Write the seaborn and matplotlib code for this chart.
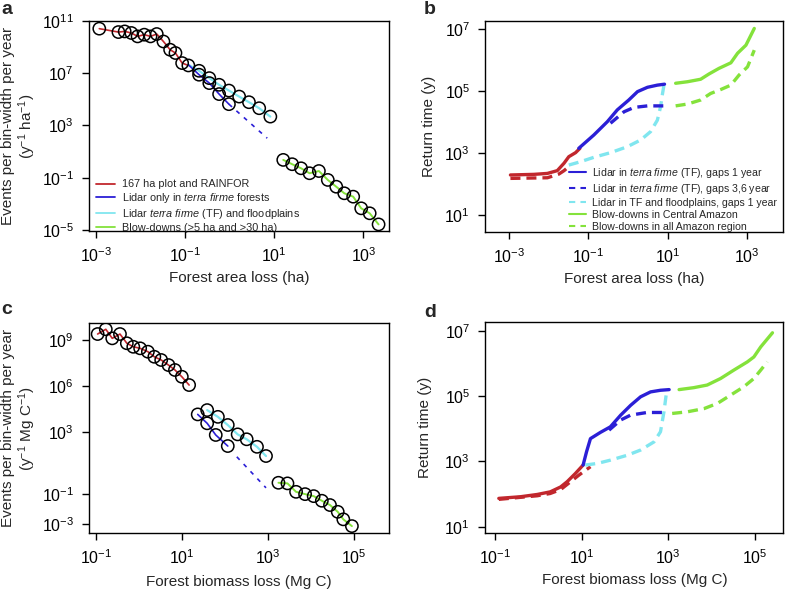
import numpy as np
import matplotlib
matplotlib.use("Agg")
import matplotlib.pyplot as plt
from matplotlib.lines import Line2D
from matplotlib.ticker import NullLocator, FixedLocator, FixedFormatter
import seaborn as sns

# all values are log10 of what is on the axes

# panel a: event rate vs forest area loss
a_red_x = [-2.93, -2.50, -2.36, -2.21, -2.07, -1.92, -1.78, -1.64, -1.49, -1.34, -1.22, -1.07, -0.93]
a_red_y = [10.39, 10.13, 10.18, 10.06, 9.80, 9.93, 9.80, 9.98, 9.41, 8.78, 8.53, 7.76, 7.58]
a_blue_x = [-0.93, -0.69, -0.46, -0.24, -0.02]
a_blue_y = [7.63, 6.87, 6.23, 5.39, 4.62]
a_blue_ext_x = [-0.02, 0.84]
a_blue_ext_y = [4.62, 2.02]
a_cyan_x = [-0.93, -0.69, -0.46, -0.24, -0.02, 0.21, 0.43, 0.66, 0.91]
a_cyan_y = [7.63, 7.17, 6.61, 6.10, 5.66, 5.20, 4.77, 4.31, 3.67]
a_green_x = [1.20, 1.40, 1.60, 1.79, 2.00, 2.20, 2.39, 2.57, 2.77, 2.95, 3.14, 3.34]
a_green_y = [0.36, 0.03, -0.28, -0.66, -0.49, -1.17, -1.69, -2.19, -2.45, -3.34, -3.72, -4.57]

# panel c: event rate vs forest biomass loss
c_red_x = [-0.96, -0.77, -0.62, -0.44, -0.28, -0.13, 0.03, 0.21, 0.36, 0.52, 0.69, 0.84, 1.00, 1.17]
c_red_y = [9.39, 9.70, 9.11, 9.39, 8.79, 8.56, 8.46, 8.24, 7.91, 7.70, 7.37, 7.05, 6.61, 6.07]
c_blue_x = [1.37, 1.59, 1.79, 2.07]
c_blue_y = [4.16, 3.58, 2.82, 2.10]
c_blue_ext_x = [2.28, 2.96]
c_blue_ext_y = [1.40, -0.62]
c_cyan_x = [1.59, 1.84, 2.07, 2.30, 2.51, 2.75, 2.96]
c_cyan_y = [4.44, 4.00, 3.47, 2.86, 2.54, 2.05, 1.45]
c_green_x = [3.25, 3.46, 3.66, 3.87, 4.07, 4.26, 4.45, 4.63, 4.76, 4.96]
c_green_y = [-0.29, -0.33, -0.88, -1.03, -1.16, -1.46, -1.74, -2.18, -2.67, -3.11]

# panel b: return time vs forest area loss
b_red_x = [-2.96, -2.37, -2.03, -1.78, -1.61, -1.49, -1.32, -1.21]
b_red_y = [2.29, 2.31, 2.34, 2.43, 2.67, 2.88, 3.01, 3.15]
b_red_d_x = [-2.96, -2.03, -1.74, -1.61, -1.49]
b_red_d_y = [2.18, 2.20, 2.32, 2.43, 2.56]
b_blue_x = [-1.24, -0.86, -0.52, -0.27, 0.02, 0.24, 0.49, 0.74, 0.92]
b_blue_y = [3.15, 3.58, 4.01, 4.39, 4.71, 4.98, 5.12, 5.19, 5.22]
b_blue_d_x = [-0.44, -0.10, 0.15, 0.49, 0.91]
b_blue_d_y = [3.96, 4.33, 4.47, 4.52, 4.52]
b_cyan_x = [-1.49, -1.19, -0.86, -0.44, -0.02, 0.32, 0.57, 0.74, 0.82, 0.87, 0.91]
b_cyan_y = [2.61, 2.72, 2.86, 3.01, 3.20, 3.42, 3.69, 4.06, 4.49, 4.92, 5.22]
b_green_x = [1.20, 1.50, 1.83, 2.04, 2.29, 2.59, 2.76, 2.97, 3.18]
b_green_y = [5.25, 5.30, 5.38, 5.55, 5.73, 5.91, 6.22, 6.48, 7.02]
b_green_d_x = [1.20, 1.50, 1.83, 2.08, 2.34, 2.59, 2.80, 3.01, 3.18]
b_green_d_y = [4.52, 4.58, 4.71, 4.92, 5.05, 5.19, 5.52, 5.78, 6.32]

# panel d: return time vs forest biomass loss
d_red_x = [-0.92, -0.42, -0.03, 0.27, 0.51, 0.66, 0.85, 1.03]
d_red_y = [1.87, 1.92, 1.99, 2.07, 2.22, 2.38, 2.63, 2.89]
d_red_d_x = [-0.92, -0.03, 0.27, 0.51, 0.74, 0.93, 1.20]
d_red_d_y = [1.84, 1.95, 2.02, 2.14, 2.38, 2.58, 2.84]
d_blue_x = [1.03, 1.11, 1.20, 1.43, 1.66, 1.90, 2.13, 2.36, 2.59, 2.82, 3.02]
d_blue_y = [2.89, 3.30, 3.70, 3.89, 4.06, 4.42, 4.72, 4.98, 5.13, 5.18, 5.20]
d_blue_d_x = [1.63, 1.90, 2.13, 2.51, 2.94]
d_blue_d_y = [3.96, 4.27, 4.42, 4.50, 4.50]
d_cyan_x = [1.08, 1.36, 1.66, 2.05, 2.36, 2.67, 2.82, 2.90, 2.96]
d_cyan_y = [2.89, 2.94, 3.04, 3.19, 3.35, 3.60, 3.91, 4.52, 5.13]
d_green_x = [3.25, 3.59, 3.90, 4.21, 4.52, 4.83, 4.98, 5.14, 5.41]
d_green_y = [5.20, 5.26, 5.34, 5.54, 5.80, 6.05, 6.20, 6.51, 6.94]
d_green_d_x = [3.09, 3.44, 3.83, 4.14, 4.44, 4.75, 4.98, 5.14, 5.29]
d_green_d_y = [4.47, 4.52, 4.62, 4.78, 5.03, 5.29, 5.54, 5.80, 6.05]

legend_a = ["167 ha plot and RAINFOR", "Lidar only in $\\it{terra\\ firme}$ forests",
            "Lidar $\\it{terra\\ firme}$ (TF) and floodplains", "Blow-downs (>5 ha and >30 ha)"]
legend_b = ["Lidar in $\\it{terra\\ firme}$ (TF), gaps 1 year",
            "Lidar in $\\it{terra\\ firme}$ (TF), gaps 3,6 year",
            "Lidar in TF and floodplains, gaps 1 year",
            "Blow-downs in Central Amazon", "Blow-downs in all Amazon region"]

RED = "#c1272d"
BLUE = "#2b1fd6"
CYAN = "#80e6ef"
GREEN = "#84e23b"
DASH = (0, (3, 1.8))

sns.set_style("white")
plt.rcParams["font.family"] = ["Liberation Sans", "DejaVu Sans"]
plt.rcParams["mathtext.fontset"] = "custom"
plt.rcParams["mathtext.rm"] = "Liberation Sans"
plt.rcParams["mathtext.it"] = "Liberation Sans:italic"
plt.rcParams["mathtext.default"] = "regular"


def line(ax, lx, ly, color, lw, ls="-"):
    sns.lineplot(x=10.0 ** np.array(lx), y=10.0 ** np.array(ly), ax=ax, color=color,
                 lw=lw, linestyle=ls, sort=False, estimator=None, zorder=2)


def circles(ax, lx, ly):
    sns.scatterplot(x=10.0 ** np.array(lx), y=10.0 ** np.array(ly), ax=ax, s=78,
                    facecolors="none", edgecolor="black", linewidth=1.1, zorder=3)


def setup(ax, xlim, ylim, xt, yt, xlabel, ylabel, ylab_x, xlab_y):
    ax.set_xscale("log")
    ax.set_yscale("log")
    ax.set_xlim(10.0 ** xlim[0], 10.0 ** xlim[1])
    ax.set_ylim(10.0 ** ylim[0], 10.0 ** ylim[1])
    ax.xaxis.set_major_locator(FixedLocator([10.0 ** k for k in xt]))
    ax.xaxis.set_major_formatter(FixedFormatter(["$10^{%d}$" % k for k in xt]))
    ax.yaxis.set_major_locator(FixedLocator([10.0 ** k for k in yt]))
    ax.yaxis.set_major_formatter(FixedFormatter(["$10^{%d}$" % k for k in yt]))
    ax.xaxis.set_minor_locator(NullLocator())
    ax.yaxis.set_minor_locator(NullLocator())
    ax.tick_params(direction="out", length=5, width=1, labelsize=11.5, pad=6,
                   bottom=True, left=True, colors="black")
    for sp in ax.spines.values():
        sp.set_color("black")
        sp.set_linewidth(1.0)
    ax.set_xlabel(xlabel, fontsize=11)
    ax.set_ylabel(ylabel, fontsize=11, linespacing=1.1)
    ax.yaxis.set_label_coords(ylab_x, 0.5)
    ax.xaxis.set_label_coords(0.5, xlab_y)


fig = plt.figure(figsize=(7.88, 5.91), dpi=100)
ax_a = fig.add_axes([0.113, 0.609, 0.381, 0.356])
ax_b = fig.add_axes([0.616, 0.608, 0.378, 0.357])
ax_c = fig.add_axes([0.113, 0.0976, 0.381, 0.3554])
ax_d = fig.add_axes([0.616, 0.0976, 0.378, 0.357])

# panel a
setup(ax_a, (-3.16, 3.58), (-5.08, 11.0), [-3, -1, 1, 3], [11, 7, 3, -1, -5],
      "Forest area loss (ha)", "Events per bin-width per year\n(y$^{-1}$ ha$^{-1}$)", -0.17, -0.19)
line(ax_a, a_red_x, a_red_y, RED, 1.2)
line(ax_a, a_cyan_x, a_cyan_y, CYAN, 1.6)
line(ax_a, a_blue_x, a_blue_y, BLUE, 1.2)
line(ax_a, a_blue_ext_x, a_blue_ext_y, BLUE, 1.2, (0, (2.5, 3.5)))
line(ax_a, a_green_x, a_green_y, GREEN, 1.4)
for lx, ly in [(a_red_x, a_red_y), (a_blue_x[1:], a_blue_y[1:]), (a_cyan_x[1:], a_cyan_y[1:]),
               (a_green_x, a_green_y)]:
    circles(ax_a, lx, ly)
ha = [Line2D([], [], color=c, lw=1.3) for c in (RED, BLUE, CYAN, GREEN)]
ax_a.legend(ha, legend_a, loc="lower left", bbox_to_anchor=(0.02, -0.012), frameon=False,
            fontsize=7.8, handlelength=1.7, handletextpad=0.7, labelspacing=0.16,
            borderpad=0.1, borderaxespad=0.0)

# panel c
setup(ax_c, (-1.16, 5.83), (-3.58, 10.09), [-1, 1, 3, 5], [9, 6, 3, -1, -3],
      "Forest biomass loss (Mg C)", "Events per bin-width per year\n(y$^{-1}$ Mg C$^{-1}$)", -0.17, -0.2)
line(ax_c, c_red_x, c_red_y, RED, 1.2)
line(ax_c, c_cyan_x, c_cyan_y, CYAN, 1.6)
line(ax_c, c_blue_x, c_blue_y, BLUE, 1.2)
line(ax_c, c_blue_ext_x, c_blue_ext_y, BLUE, 1.2, (0, (2.5, 3.5)))
line(ax_c, c_green_x, c_green_y, GREEN, 1.4)
for lx, ly in [(c_red_x, c_red_y), (c_blue_x, c_blue_y), (c_cyan_x, c_cyan_y),
               (c_green_x, c_green_y)]:
    circles(ax_c, lx, ly)

# panel b
setup(ax_b, (-3.59, 3.91), (0.46, 7.27), [-3, -1, 1, 3], [7, 5, 3, 1],
      "Forest area loss (ha)", "Return time (y)", -0.167, -0.19)
line(ax_b, b_red_d_x, b_red_d_y, RED, 2.4, DASH)
line(ax_b, b_red_x, b_red_y, RED, 2.4)
line(ax_b, b_cyan_x, b_cyan_y, CYAN, 2.4, DASH)
line(ax_b, b_blue_d_x, b_blue_d_y, BLUE, 2.4, DASH)
line(ax_b, b_blue_x, b_blue_y, BLUE, 2.4)
line(ax_b, b_green_x, b_green_y, GREEN, 2.4)
line(ax_b, b_green_d_x, b_green_d_y, GREEN, 2.4, DASH)
hb = [Line2D([], [], color=BLUE, lw=1.5), Line2D([], [], color=BLUE, lw=1.5, ls=(0, (3, 2.5))),
      Line2D([], [], color=CYAN, lw=1.5, ls=(0, (3, 2.5))), Line2D([], [], color=GREEN, lw=1.5),
      Line2D([], [], color=GREEN, lw=1.5, ls=(0, (3, 2.5)))]
ax_b.legend(hb, legend_b, loc="lower left", bbox_to_anchor=(0.278, -0.005), frameon=False,
            fontsize=7.55, handlelength=1.6, handletextpad=0.6, labelspacing=0.18,
            borderpad=0.1, borderaxespad=0.0)

# panel d
setup(ax_d, (-1.23, 5.66), (0.80, 7.26), [-1, 1, 3, 5], [7, 5, 3, 1],
      "Forest biomass loss (Mg C)", "Return time (y)", -0.18, -0.19)
line(ax_d, d_red_d_x, d_red_d_y, RED, 2.4, DASH)
line(ax_d, d_red_x, d_red_y, RED, 2.4)
line(ax_d, d_cyan_x, d_cyan_y, CYAN, 2.4, DASH)
line(ax_d, d_blue_d_x, d_blue_d_y, BLUE, 2.4, DASH)
line(ax_d, d_blue_x, d_blue_y, BLUE, 2.4)
line(ax_d, d_green_x, d_green_y, GREEN, 2.4)
line(ax_d, d_green_d_x, d_green_d_y, GREEN, 2.4, DASH)

for letter, x, y in [("a", 0.002, 0.998), ("b", 0.538, 0.998), ("c", 0.002, 0.49), ("d", 0.538, 0.485)]:
    fig.text(x, y, letter, fontsize=14, fontweight="bold", ha="left", va="top")

fig.savefig("out.png", dpi=100)
